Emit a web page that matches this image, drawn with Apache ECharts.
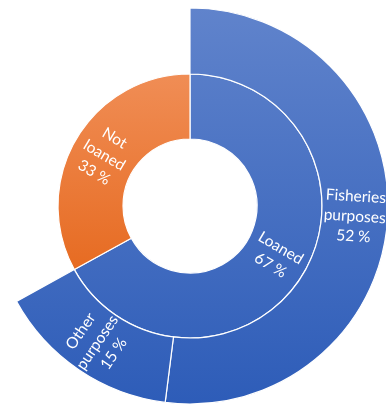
<!DOCTYPE html>
<html>
<head>
<meta charset="utf-8">
<script src="https://cdn.jsdelivr.net/npm/echarts@6/dist/echarts.min.js"></script>
<style>
  html, body { margin: 0; padding: 0; background: #fff; }
  #chart { width: 386px; height: 407px; }
</style>
</head>
<body>
<div id="chart"></div>
<script>
  // inner ring
  const innerNames = ['Loaned', 'Not\nloaned'];
  const innerValues = [67, 33];
  // outer ring (children of Loaned)
  const outerNames = ['Fisheries\npurposes', 'Other\npurposes'];
  const outerValues = [52, 15];

  const blue = new echarts.graphic.LinearGradient(0, 0, 0, 407, [
    { offset: 0, color: '#6184cc' },
    { offset: 1, color: '#2d5cb8' }
  ], true);
  const orange = new echarts.graphic.LinearGradient(0, 75, 0, 300, [
    { offset: 0, color: '#f08d55' },
    { offset: 1, color: '#e5661a' }
  ], true);

  const chart = echarts.init(document.getElementById('chart'));

  const children = outerNames.map((n, i) => ({
    name: n,
    value: outerValues[i],
    itemStyle: { color: blue }
  }));

  const option = {
    animation: false,
    series: [{
      type: 'sunburst',
      center: [190, 206],
      sort: null,
      startAngle: 90,
      emphasis: { disabled: true },
      nodeClick: false,
      itemStyle: { borderColor: '#fff', borderWidth: 1.2 },
      label: {
        rotate: 'radial',
        color: '#fff',
        fontFamily: 'Lato',
        fontSize: 15.5,
        lineHeight: 20,
        align: 'center',
        formatter: p => p.name + '\n' + p.value + ' %'
      },
      levels: [
        {},
        { r0: 67, r: 132 },
        { r0: 132, r: 198 }
      ],
      data: [
        {
          name: innerNames[0],
          value: innerValues[0],
          itemStyle: { color: blue },
          children: children
        },
        {
          name: innerNames[1],
          value: innerValues[1],
          itemStyle: { color: orange }
        }
      ]
    }]
  };
  chart.setOption(option);
</script>
</body>
</html>
